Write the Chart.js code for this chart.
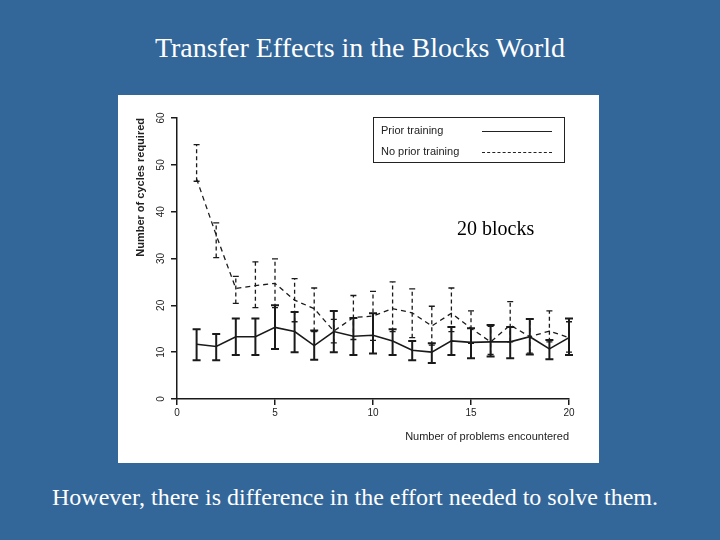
<!DOCTYPE html>
<html>
<head>
<meta charset="utf-8">
<script src="https://cdn.jsdelivr.net/npm/chart.js@4"></script>
<style>
  html, body { margin: 0; padding: 0; }
  body { width: 720px; height: 540px; background: #336699; position: relative; overflow: hidden; }
  #title { position: absolute; left: 0; top: 31px; width: 720px; text-align: center; color: #fff;
           font-family: "Liberation Serif", "DejaVu Serif", serif; font-size: 28px; line-height: 34px; }
  #caption { position: absolute; left: -5px; top: 483px; width: 720px; text-align: center; color: #fff;
           font-family: "Liberation Serif", "DejaVu Serif", serif; font-size: 24px; line-height: 28px; }
  #panel { position: absolute; left: 118px; top: 95px; width: 481px; height: 368px; background: #fff; }
  #chart { position: absolute; left: 0; top: 0; }
  #legend { position: absolute; left: 255px; top: 22px; width: 190px; height: 44px; border: 1.5px solid #222;
            font-family: "Liberation Sans", Arial, sans-serif; font-size: 11px; color: #222; }
  .lrow { position: absolute; left: 7px; height: 14px; line-height: 14px; }
  .lsample { position: absolute; left: 108px; width: 70px; height: 0; }
  #note { position: absolute; left: 339px; top: 121px; font-family: "Liberation Serif", "DejaVu Serif", serif;
          font-size: 20px; line-height: 24px; color: #000; }
</style>
</head>
<body>
<div id="title">Transfer Effects in the Blocks World</div>
<div id="panel">
  <canvas id="chart" width="481" height="368"></canvas>
  <div id="legend"></div>
  <div id="note">20 blocks</div>
</div>
<div id="caption">However, there is difference in the effort needed to solve them.</div>
<script>
const problems = [1,2,3,4,5,6,7,8,9,10,11,12,13,14,15,16,17,18,19,20];
const seriesNames = ["Prior training", "No prior training"];
const priorMean  = [11.7,11.2,13.3,13.3,15.3,14.4,11.4,14.4,13.4,13.6,12.4,10.4,10.0,12.4,12.1,12.2,12.2,13.3,10.7,13.1];
const priorLow   = [8.3,8.3,9.4,9.4,10.7,10.0,8.4,10.0,9.4,9.7,9.4,8.3,7.7,9.4,8.7,9.1,8.7,9.5,8.5,9.4];
const priorHigh  = [14.9,13.9,17.2,17.2,20.0,18.6,14.6,18.8,17.3,18.3,14.9,12.4,11.9,15.4,15.1,15.8,15.4,17.1,12.6,17.2];
const noPriorMean = [47.0,35.0,23.6,24.2,24.7,21.1,19.3,14.5,17.4,17.7,19.3,18.4,15.6,18.3,15.1,12.2,15.8,13.3,14.5,13.1];
const noPriorLow  = [46.5,30.2,20.4,19.5,19.5,16.5,14.4,12.0,12.7,12.5,14.4,13.1,11.5,14.4,11.9,9.5,12.2,9.8,12.2,10.0];
const noPriorHigh = [54.3,37.6,26.2,29.3,29.9,25.7,23.7,17.0,22.1,23.0,25.0,23.5,19.8,23.7,18.8,15.5,20.8,17.0,18.8,16.5];
const yTickValues = [0,10,20,30,40,50,60];
const xTickValues = [0,5,10,15,20];
const xTitle = "Number of problems encountered";
const yTitle = "Number of cycles required";

const ink = '#1a1a1a';
const axisFont = { family: '"Liberation Sans", Arial, sans-serif', size: 10 };

// HTML legend from series names
const legend = document.getElementById('legend');
seriesNames.forEach((name, i) => {
  const row = document.createElement('div');
  row.className = 'lrow';
  row.style.top = (5 + i * 21) + 'px';
  row.textContent = name;
  legend.appendChild(row);
  const s = document.createElement('div');
  s.className = 'lsample';
  s.style.top = (13 + i * 21) + 'px';
  s.style.borderTop = i === 0 ? '1.5px solid #222' : '1.5px dashed #222';
  legend.appendChild(s);
});

const errorBars = {
  id: 'errorBars',
  afterDatasetsDraw(chart) {
    const xs = chart.scales.x, ys = chart.scales.y, ctx = chart.ctx;
    const sets = [
      { lo: noPriorLow, hi: noPriorHigh, dash: [4,3], w: 1.3, cap: 3 },
      { lo: priorLow, hi: priorHigh, dash: [], w: 2, cap: 4 }
    ];
    ctx.save();
    ctx.strokeStyle = ink;
    sets.forEach(s => {
      problems.forEach((p, j) => {
        const x = xs.getPixelForValue(p);
        const yl = ys.getPixelForValue(s.lo[j]);
        const yh = ys.getPixelForValue(s.hi[j]);
        ctx.lineWidth = s.w;
        ctx.setLineDash(s.dash);
        ctx.beginPath(); ctx.moveTo(x, yl); ctx.lineTo(x, yh); ctx.stroke();
        ctx.setLineDash([]);
        ctx.beginPath();
        ctx.moveTo(x - s.cap, yl); ctx.lineTo(x + s.cap, yl);
        ctx.moveTo(x - s.cap, yh); ctx.lineTo(x + s.cap, yh);
        ctx.stroke();
      });
    });
    ctx.restore();
  }
};

const rotatedYTicks = {
  id: 'rotatedYTicks',
  afterDraw(chart) {
    const ys = chart.scales.y, ctx = chart.ctx;
    ctx.save();
    ctx.fillStyle = '#222';
    ctx.font = '10px "Liberation Sans", Arial, sans-serif';
    ctx.textAlign = 'center';
    ctx.textBaseline = 'middle';
    ys.ticks.forEach((t, i) => {
      const y = ys.getPixelForTick(i);
      ctx.save();
      ctx.translate(ys.right - 16, y);
      ctx.rotate(-Math.PI / 2);
      ctx.fillText(t.label, 0, 0);
      ctx.restore();
    });
    ctx.restore();
  }
};

new Chart(document.getElementById('chart'), {
  type: 'line',
  data: {
    labels: problems,
    datasets: [
      { label: seriesNames[0], data: problems.map((p, i) => ({ x: p, y: priorMean[i] })),
        borderColor: ink, borderWidth: 1.6, pointRadius: 0, tension: 0, fill: false },
      { label: seriesNames[1], data: problems.map((p, i) => ({ x: p, y: noPriorMean[i] })),
        borderColor: ink, borderWidth: 1.3, borderDash: [5, 4], pointRadius: 0, tension: 0, fill: false }
    ]
  },
  options: {
    responsive: false,
    animation: false,
    devicePixelRatio: 1,
    layout: { padding: { left: 10, right: 30, top: 23, bottom: 14 } },
    plugins: { legend: { display: false }, tooltip: { enabled: false }, title: { display: false } },
    scales: {
      x: {
        type: 'linear', min: xTickValues[0], max: xTickValues[xTickValues.length - 1],
        afterBuildTicks: s => { s.ticks = xTickValues.map(v => ({ value: v })); },
        afterFit: s => { s.height = 50; },
        ticks: { color: '#222', font: axisFont, padding: 2, maxRotation: 0 },
        grid: { display: true, drawOnChartArea: false, drawTicks: true, tickLength: 6, color: ink, lineWidth: 1.5 },
        border: { display: true, color: ink, width: 1.5 },
        title: { display: true, text: xTitle, align: 'end', color: '#222',
                 font: { family: '"Liberation Sans", Arial, sans-serif', size: 11 }, padding: { top: 0, bottom: 5 } }
      },
      y: {
        type: 'linear', min: yTickValues[0], max: yTickValues[yTickValues.length - 1],
        afterBuildTicks: s => { s.ticks = yTickValues.map(v => ({ value: v })); },
        afterFit: s => { s.width = 49; },
        ticks: { display: false },
        grid: { display: true, drawOnChartArea: false, drawTicks: true, tickLength: 6, color: ink, lineWidth: 1.5 },
        border: { display: true, color: ink, width: 1.5 },
        title: { display: true, text: yTitle, align: 'end', color: '#222',
                 font: { family: '"Liberation Sans", Arial, sans-serif', size: 11, weight: 'bold' }, padding: { top: 6, bottom: 0 } }
      }
    }
  },
  plugins: [errorBars, rotatedYTicks]
});
</script>
</body>
</html>
